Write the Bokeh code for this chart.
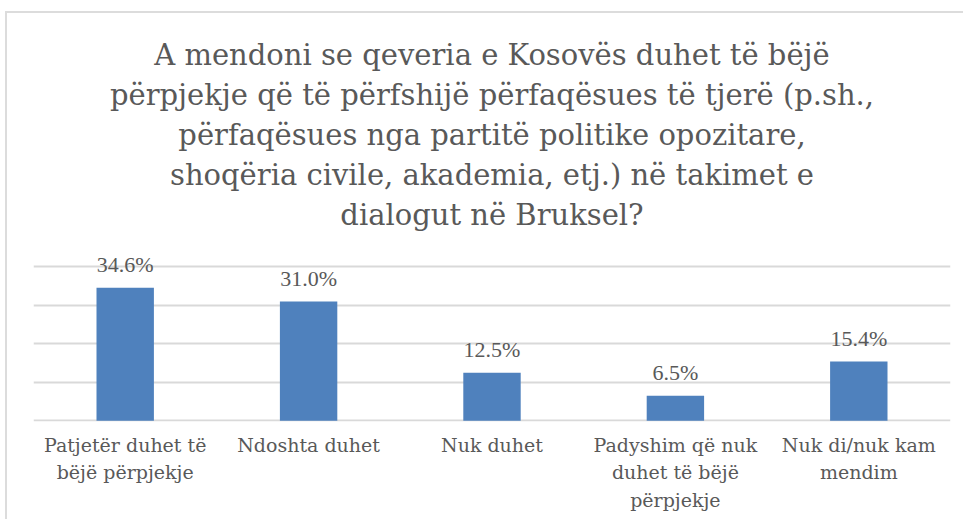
from bokeh.plotting import figure
from bokeh.models import ColumnDataSource, FixedTicker, LabelSet, FactorRange, Range1d, Title
from bokeh.embed import file_html
from bokeh.resources import INLINE

title_lines = ["A mendoni se qeveria e Kosovës duhet të bëjë",
               "përpjekje që të përfshijë përfaqësues të tjerë (p.sh.,",
               "përfaqësues nga partitë politike opozitare,",
               "shoqëria civile, akademia, etj.) në takimet e",
               "dialogut në Bruksel?"]

categories = ["Patjetër duhet të\nbëjë përpjekje",
              "Ndoshta duhet",
              "Nuk duhet",
              "Padyshim që nuk\nduhet të bëjë\npërpjekje",
              "Nuk di/nuk kam\nmendim"]
values = [34.6, 31.0, 12.5, 6.5, 15.4]
value_labels = ["34.6%", "31.0%", "12.5%", "6.5%", "15.4%"]
grid_ticks = [0, 10, 20, 30, 40]

TEXT = "#595959"
GRID = "#D9D9D9"
BAR = "#4F81BD"
FONT = "DejaVu Serif"

src = ColumnDataSource(dict(cat=categories, val=values, lab=value_labels))

p = figure(width=958, height=508, x_range=FactorRange(*categories, range_padding=0),
           y_range=Range1d(-0.2, 44), output_backend="svg", toolbar_location=None,
           min_border_left=26, min_border_right=15, min_border_bottom=100, min_border_top=238,
           title=None)
p.margin = (11, 0, 0, 5)
p.styles = {"border-left": "2px solid #DCDCDC", "border-top": "2px solid #DCDCDC"}

# spacer between the title block and the plot frame
p.add_layout(Title(text=" ", text_font_size="14px", text_line_height=1.0, standoff=0), "above")
for line in reversed(title_lines):
    t = Title(text=line, align="center", text_font=FONT, text_font_style="normal",
              text_font_size="29px", text_color=TEXT, standoff=4)
    p.add_layout(t, "above")

p.vbar(x="cat", top="val", width=0.313, source=src, fill_color=BAR, line_color=None)

labels = LabelSet(x="cat", y="val", text="lab", source=src, text_align="center",
                  text_baseline="alphabetic", y_offset=16, text_font=FONT,
                  text_font_size="22px", text_color=TEXT)
p.add_layout(labels)

p.outline_line_color = None
p.xgrid.grid_line_color = None
p.ygrid.grid_line_color = GRID
p.ygrid.grid_line_width = 2
p.yaxis.ticker = FixedTicker(ticks=grid_ticks)
p.yaxis.visible = False

ax = p.xaxis[0]
ax.axis_line_color = None
ax.major_tick_line_color = None
ax.major_tick_in = 0
ax.major_tick_out = 0
ax.major_label_standoff = 12
ax.major_label_text_font = FONT
ax.major_label_text_font_size = "19px"
ax.major_label_text_color = TEXT
ax.major_label_text_line_height = 1.25
ax.major_label_orientation = "horizontal"

open("out.html", "w").write(file_html(p, INLINE))
